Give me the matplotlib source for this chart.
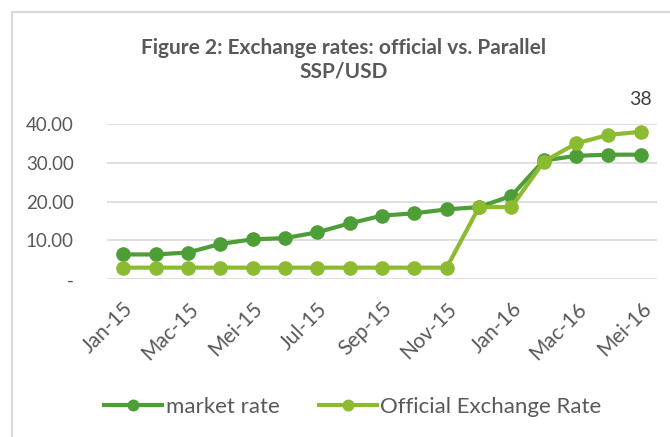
import matplotlib
matplotlib.use("Agg")
import matplotlib.pyplot as plt
from matplotlib.patches import Rectangle

# Data
months = ["Jan-15", "Feb-15", "Mac-15", "Apr-15", "Mei-15", "Jun-15", "Jul-15", "Agu-15",
          "Sep-15", "Okt-15", "Nov-15", "Des-15", "Jan-16", "Feb-16", "Mac-16", "Apr-16", "Mei-16"]
market_rate = [6.4, 6.4, 6.9, 9.1, 10.3, 10.6, 12.1, 14.4, 16.4, 17.0, 18.0, 18.6,
               21.5, 30.6, 31.8, 32.1, 32.1]
official_rate = [3.0, 3.0, 3.0, 3.0, 3.0, 3.0, 3.0, 3.0, 3.0, 3.0, 3.0, 18.6,
                 18.6, 30.3, 35.0, 37.2, 38.0]
y_ticks = [0, 10, 20, 30, 40]
y_labels = ["-", "10.00", "20.00", "30.00", "40.00"]

text_color = "#595959"
market_color = "#4E9E38"
official_color = "#8CBB32"

plt.rcParams["font.family"] = ["Lato", "DejaVu Sans"]

fig = plt.figure(figsize=(6.7, 4.37), dpi=100)

# chart border
fig.patches.append(Rectangle((12 / 670, -0.1), 1.0, (437 - 12) / 437 + 0.1,
                             transform=fig.transFigure, fill=False,
                             edgecolor="#D9D9D9", linewidth=1.5))

ax = fig.add_axes([107 / 670, 1 - 279.3 / 437, 550 / 670, 155.3 / 437])
x = list(range(len(months)))

ax.plot(x, market_rate, color=market_color, linewidth=3, marker="o",
        markersize=9.5, label="market rate", zorder=3)
ax.plot(x, official_rate, color=official_color, linewidth=3, marker="o",
        markersize=9.5, label="Official Exchange Rate", zorder=4)

ax.set_xlim(-0.5, len(months) - 0.5)
ax.set_ylim(0, 40)
ax.set_yticks(y_ticks)
ax.set_yticklabels(y_labels)
ax.set_xticks(x[::2])
ax.set_xticklabels(months[::2], rotation=45, ha="right", rotation_mode="anchor")

ax.tick_params(axis="y", length=0, labelsize=13.5, labelcolor=text_color, pad=24)
ax.tick_params(axis="x", length=0, labelsize=15, labelcolor=text_color, pad=14)
for s in ax.spines.values():
    s.set_visible(False)
ax.grid(True, axis="y", color="#D9D9D9", linewidth=1.2)
ax.set_axisbelow(True)

# data label on the last official point
ax.annotate(f"{official_rate[-1]:.0f}", (x[-1], official_rate[-1]),
            xytext=(0, 17), textcoords="offset points", ha="center",
            va="bottom", fontsize=14, color="#404040")

fig.text(344 / 670, 1 - 60 / 437, "Figure 2: Exchange rates: official vs. Parallel\nSSP/USD",
         ha="center", va="center", fontsize=15, fontweight="bold",
         color=text_color, linespacing=1.25)

fig.legend(loc="center", bbox_to_anchor=(353 / 670, 1 - 407 / 437), ncol=2,
           frameon=False, fontsize=16, labelcolor=text_color, handlelength=2.6,
           handletextpad=0.15, columnspacing=1.8, markerscale=0.8)

fig.savefig("out.png", dpi=100)
